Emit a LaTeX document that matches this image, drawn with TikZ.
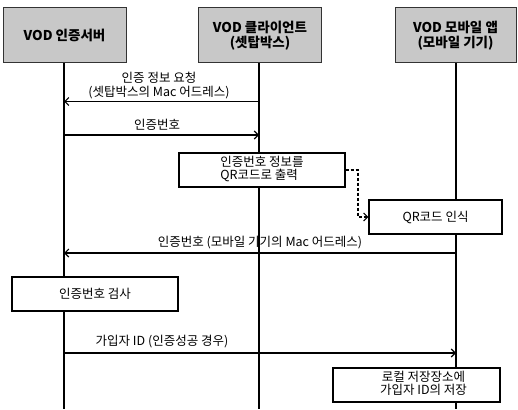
\documentclass[tikz,border=0pt]{standalone}
\usepackage{fontspec}
\setmainfont{Noto Sans CJK KR}
\usetikzlibrary{arrows.meta}
\definecolor{hdrgray}{RGB}{200,200,200}
\begin{document}
\begin{tikzpicture}[x=1pt,y=-1pt,
  hdr/.style={draw=black!80,fill=hdrgray,line width=1pt,minimum width=123pt,minimum height=55pt,font=\fontsize{13.5}{15.5}\selectfont\bfseries,align=center,inner sep=0pt},
  actbox/.style={draw=black,fill=white,line width=1.3pt,minimum height=34pt,font=\fontsize{12.5}{14}\selectfont,inner sep=0pt},
  life/.style={line width=1.1pt},
  msg/.style={line width=1.1pt,-{Straight Barb[length=4pt,width=8pt]}},
  lbl/.style={font=\fontsize{12.5}{14}\selectfont,align=center,inner sep=0pt}]
\useasboundingbox (0,0) rectangle (518,409);
\node[hdr] (h1) at (64.5,35.5) {VOD 인증서버};
\node[hdr] (h2) at (260,35.5) {VOD 클라이언트\\(셋탑박스)};
\node[hdr,minimum width=121pt] (h3) at (455.5,35.5) {VOD 모바일 앱\\(모바일 기기)};
\coordinate (e1) at (64,409);
\coordinate (e2) at (259,409);
\coordinate (e3) at (456,409);
\draw[life] (h1.south -| e1) -- (e1);
\draw[life] (h2.south -| e2) -- (e2);
\draw[life] (h3.south -| e3) -- (e3);
% messages
\coordinate (a1s) at (259,101.5); \coordinate (a1e) at (64,101.5);
\draw[msg] (a1s) -- (a1e);
\node[lbl] (l1) at (159,86) {인증 정보 요청\\(셋탑박스의 Mac 어드레스)};
\coordinate (a2s) at (64,135); \coordinate (a2e) at (259,135);
\draw[msg] (a2s) -- (a2e);
\node[lbl] (l2) at (157,125) {인증번호};
\node[actbox,minimum width=166pt] (b1) at (262,170) {\begin{tabular}{@{}l@{}}인증번호 정보를\\[-2pt]QR코드로 출력\end{tabular}\hspace{12pt}};
\node[actbox,minimum width=133pt] (b2) at (435.5,217) {QR코드 인식};
\coordinate (d1) at (358,170);
\draw[line width=1.1pt,dash pattern=on 3pt off 2pt,-{Straight Barb[length=4pt,width=8pt]}] (b1.east) -- (d1) |- (b2.west);
\coordinate (a3s) at (456,253); \coordinate (a3e) at (64,253);
\draw[msg] (a3s) -- (a3e);
\node[lbl] (l3) at (260,243) {인증번호 (모바일 기기의 Mac 어드레스)};
\node[actbox,minimum width=166pt] (b3) at (95,294) {인증번호 검사};
\coordinate (a4s) at (64,353); \coordinate (a4e) at (456,353);
\draw[msg] (a4s) -- (a4e);
\node[lbl] (l4) at (162,342) {가입자 ID (인증성공 경우)};
\node[actbox,minimum width=167pt] (b4) at (416.5,385) {\hspace{14pt}\begin{tabular}{@{}c@{}}로컬 저장장소에\\[-2pt]가입자 ID의 저장\end{tabular}};
\end{tikzpicture}
\end{document}
